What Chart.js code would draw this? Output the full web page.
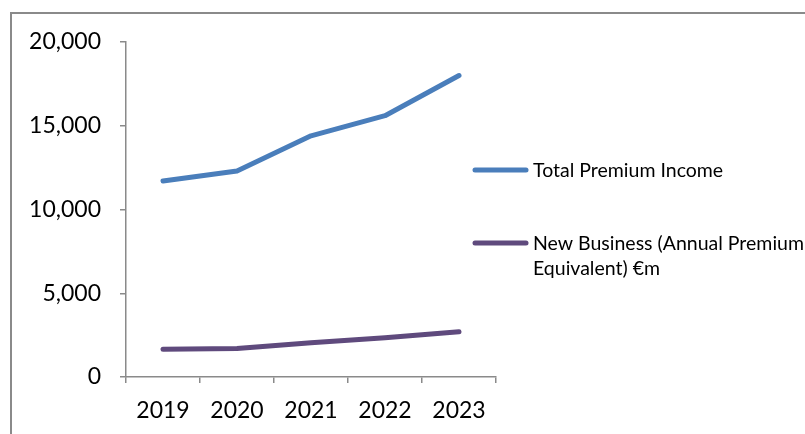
<!DOCTYPE html>
<html>
<head>
<meta charset="utf-8">
<script src="https://cdn.jsdelivr.net/npm/chart.js@4.4.1/dist/chart.umd.min.js"></script>
<style>
  html, body { margin: 0; padding: 0; background: #fff; }
  #wrap { position: relative; width: 805px; height: 434px; }
</style>
</head>
<body>
<div id="wrap"><canvas id="premiumChart" width="805" height="434"></canvas></div>
<script>
// Figures in €m
const years = ['2019', '2020', '2021', '2022', '2023'];
const totalPremium = [11700, 12300, 14400, 15600, 18000];
const newBusinessApe = [1650, 1700, 2050, 2350, 2700];
const yTicks = [0, 5000, 10000, 15000, 20000];

const seriesLabels = ['Total Premium Income', 'New Business (Annual Premium Equivalent) €m'];
const seriesColors = ['#4a7ebb', '#5f4a7d'];

const axisGrey = '#8a8a8a';
const fontFamily = 'Lato, "Open Sans", sans-serif';

// frame line along top and left of the panel
const framePlugin = {
    id: 'frame',
    beforeDraw(chart) {
        const ctx = chart.ctx;
        ctx.save();
        ctx.strokeStyle = axisGrey;
        ctx.lineWidth = 2;
        ctx.beginPath();
        ctx.moveTo(11, chart.height);
        ctx.lineTo(11, 13);
        ctx.lineTo(chart.width, 13);
        ctx.stroke();
        ctx.restore();
    }
};

// legend on the right, second label wraps onto two lines
const sideLegend = {
    id: 'sideLegend',
    afterDraw(chart) {
        const ctx = chart.ctx;
        const items = [
            { y: 170, lines: ['Total Premium Income'] },
            { y: 243, lines: ['New Business (Annual Premium', 'Equivalent) €m'] }
        ];
        ctx.save();
        ctx.font = '19.5px ' + fontFamily;
        ctx.textBaseline = 'middle';
        ctx.textAlign = 'left';
        items.forEach((item, i) => {
            const ds = chart.data.datasets[i];
            ctx.strokeStyle = ds.borderColor;
            ctx.lineWidth = 5;
            ctx.lineCap = 'round';
            ctx.beginPath();
            ctx.moveTo(475, item.y);
            ctx.lineTo(526, item.y);
            ctx.stroke();
            ctx.fillStyle = '#000';
            item.lines.forEach((line, j) => {
                ctx.fillText(line, 533, item.y + 1 + j * 25);
            });
        });
        ctx.restore();
    }
};

new Chart(document.getElementById('premiumChart'), {
    type: 'line',
    data: {
        labels: years,
        datasets: [
            {
                label: seriesLabels[0],
                data: totalPremium,
                borderColor: seriesColors[0],
                backgroundColor: seriesColors[0],
                borderWidth: 5,
                borderCapStyle: 'round',
                borderJoinStyle: 'round',
                pointRadius: 0,
                tension: 0
            },
            {
                label: seriesLabels[1],
                data: newBusinessApe,
                borderColor: seriesColors[1],
                backgroundColor: seriesColors[1],
                borderWidth: 5,
                borderCapStyle: 'round',
                borderJoinStyle: 'round',
                pointRadius: 0,
                tension: 0
            }
        ]
    },
    options: {
        responsive: false,
        animation: false,
        layout: { padding: { top: 42, right: 309, bottom: 0, left: 0 } },
        plugins: {
            legend: { display: false },
            tooltip: { enabled: false }
        },
        scales: {
            x: {
                offset: true,
                grid: {
                    offset: true,
                    drawOnChartArea: false,
                    drawTicks: true,
                    tickLength: 6,
                    color: axisGrey,
                    lineWidth: 1.5
                },
                border: { display: true, color: axisGrey, width: 1.5 },
                ticks: {
                    color: '#000',
                    padding: 14,
                    maxRotation: 0,
                    font: { family: fontFamily, size: 23 }
                },
                afterFit(scale) { scale.height = 57; }
            },
            y: {
                min: 0,
                max: 20000,
                afterBuildTicks(scale) {
                    scale.ticks = yTicks.map(v => ({ value: v }));
                },
                grid: {
                    drawOnChartArea: false,
                    drawTicks: true,
                    tickLength: 6,
                    color: axisGrey,
                    lineWidth: 1.5
                },
                border: { display: true, color: axisGrey, width: 1.5 },
                ticks: {
                    color: '#000',
                    padding: 19,
                    font: { family: fontFamily, size: 23 },
                    callback: v => v.toLocaleString('en-US')
                },
                afterFit(scale) { scale.width = 126; }
            }
        }
    },
    plugins: [framePlugin, sideLegend]
});
</script>
</body>
</html>
